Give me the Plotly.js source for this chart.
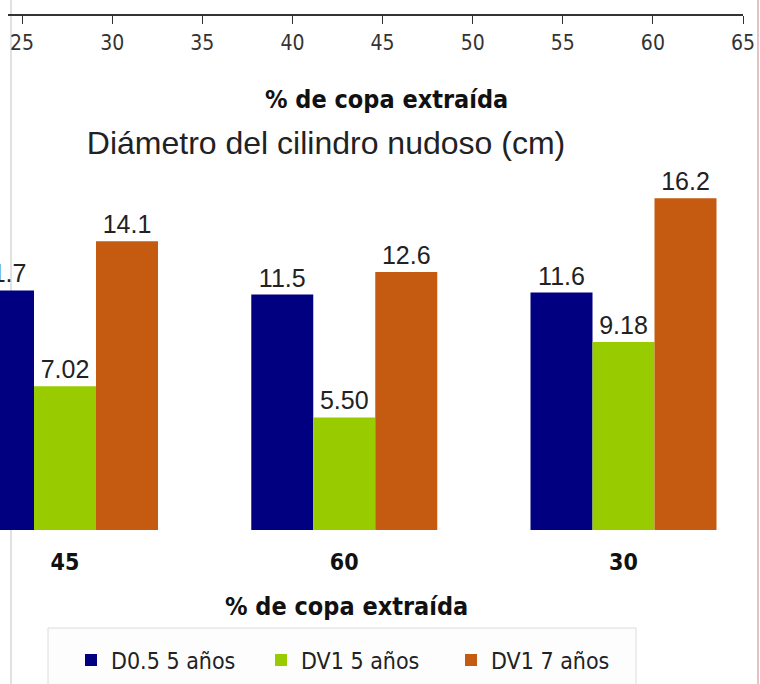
<!DOCTYPE html>
<html>
<head>
<meta charset="utf-8">
<script src="https://cdn.plot.ly/plotly-3.0.1.min.js"></script>
<style>
  html, body { margin: 0; padding: 0; background: #ffffff; }
  #chart { width: 760px; height: 684px; }
</style>
</head>
<body>
<div id="chart"></div>
<script>
// Diámetro del cilindro nudoso (cm) por % de copa extraída
const categories = ['45', '60', '30'];
const seriesNames = ['D0.5 5 años', 'DV1 5 años', 'DV1 7 años'];
const d05_5 = [11.7, 11.5, 11.6];
const dv1_5 = [7.02, 5.50, 9.18];
const dv1_7 = [14.1, 12.6, 16.2];
const topTicks = [25, 30, 35, 40, 45, 50, 55, 60, 65];

const colors = ['#000080', '#99CC00', '#C55A11'];
const W = 760, H = 684;
const py = p => 1 - p / H;   // pixel row -> paper y
const px = p => p / W;       // pixel column -> paper x

const NARROW = '"DejaVu Sans Condensed", "Liberation Sans Narrow", "Arial Narrow", sans-serif';
const SANS = '"Liberation Sans", Arial, sans-serif';

const values = [d05_5, dv1_5, dv1_7];
const traces = values.map((v, i) => ({
  type: 'bar',
  name: seriesNames[i],
  x: categories,
  y: v,
  marker: { color: colors[i], line: { width: 0 } },
  texttemplate: '%{y:.3g}',
  textposition: 'outside',
  textfont: { family: SANS, size: 25, color: '#222' },
  cliponaxis: false,
  hoverinfo: 'skip'
}));

// placeholder trace so the upper percentage axis is laid out
traces.push({
  type: 'scatter', mode: 'markers', x: [], y: [],
  xaxis: 'x2', yaxis: 'y2', showlegend: false, hoverinfo: 'skip'
});

const layout = {
  width: W, height: H,
  margin: { l: 0, r: 0, t: 0, b: 0 },
  paper_bgcolor: '#ffffff',
  plot_bgcolor: 'rgba(0,0,0,0)',
  barmode: 'group',
  bargap: 0.334,
  bargroupgap: 0,
  showlegend: true,
  title: {
    text: 'Diámetro del cilindro nudoso (cm)',
    font: { family: SANS, size: 32, color: '#222' },
    x: px(326), xanchor: 'center',
    y: py(143), yanchor: 'middle', yref: 'container'
  },
  xaxis: {
    type: 'category',
    domain: [0, 1],
    range: [-0.2328, 2.4888],
    showgrid: false, zeroline: false, showline: false,
    ticks: '',
    ticklabelstandoff: 16,
    tickfont: { family: NARROW, size: 23, color: '#111', weight: 'bold' },
    anchor: 'y'
  },
  yaxis: {
    domain: [py(530), py(161.5)],
    range: [0, 18],
    visible: false,
    fixedrange: true
  },
  xaxis2: {
    domain: [px(8), px(743)],
    range: [24.22, 65],
    tickvals: topTicks,
    ticks: 'outside', ticklen: 8, tickwidth: 1, tickcolor: '#333',
    showline: true, linecolor: '#333', linewidth: 2,
    showgrid: false, zeroline: false,
    ticklabelstandoff: 1,
    tickfont: { family: NARROW, size: 21, color: '#333' },
    anchor: 'y2', side: 'bottom'
  },
  yaxis2: {
    domain: [py(14), 1],
    range: [0, 1],
    visible: false
  },
  legend: {
    orientation: 'h',
    x: px(71), xanchor: 'left',
    y: py(660), yanchor: 'middle',
    bgcolor: 'rgba(0,0,0,0)',
    borderwidth: 0,
    font: { family: NARROW, size: 23, color: '#222' },
    entrywidth: 145, entrywidthmode: 'pixels',
    traceorder: 'normal'
  },
  annotations: [
    {
      text: '% de copa extraída', showarrow: false,
      xref: 'paper', yref: 'paper', x: px(386), y: py(100),
      xanchor: 'center', yanchor: 'middle',
      font: { family: NARROW, size: 25, color: '#111', weight: 'bold' }
    },
    {
      text: '% de copa extraída', showarrow: false,
      xref: 'paper', yref: 'paper', x: px(346), y: py(606),
      xanchor: 'center', yanchor: 'middle',
      font: { family: NARROW, size: 25, color: '#111', weight: 'bold' }
    }
  ],
  shapes: [
    // frame line on the left edge
    { type: 'line', xref: 'paper', yref: 'paper', x0: px(11), x1: px(11), y0: 0, y1: 1,
      line: { color: '#c4c4c4', width: 1 }, layer: 'below' },
    // frame line on the right edge
    { type: 'line', xref: 'paper', yref: 'paper', x0: px(758), x1: px(758), y0: 0, y1: 1,
      line: { color: '#e2c4c8', width: 2 }, layer: 'above' },
    // legend box
    { type: 'rect', xref: 'paper', yref: 'paper', x0: px(48), x1: px(636), y0: -0.05, y1: py(628),
      line: { color: '#dcdcdc', width: 1 }, fillcolor: '#fdfdfd', layer: 'below' }
  ]
};

Plotly.newPlot('chart', traces, layout, { displayModeBar: false, staticPlot: true });
</script>
</body>
</html>
